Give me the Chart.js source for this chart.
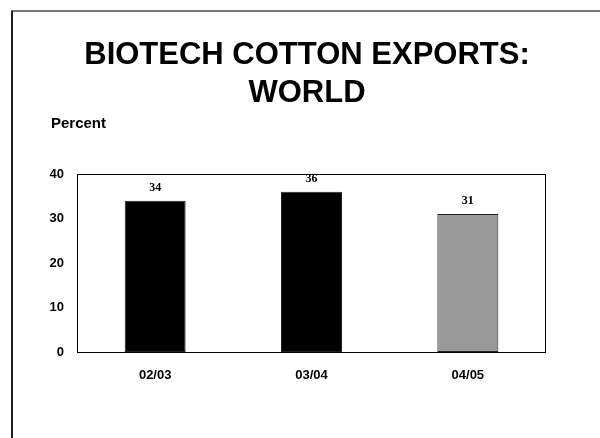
<!DOCTYPE html>
<html>
<head>
<meta charset="utf-8">
<script src="https://cdn.jsdelivr.net/npm/chart.js@4/dist/chart.umd.min.js"></script>
<style>
  html, body { margin: 0; padding: 0; background: #fff; }
  #wrap { position: relative; width: 600px; height: 438px; }
</style>
</head>
<body>
<div id="wrap"><canvas id="cotton-chart" width="600" height="438"></canvas></div>
<script>
const titleLines = ['BIOTECH COTTON EXPORTS:', 'WORLD'];
const unitLabel = 'Percent';
const seasons = ['02/03', '03/04', '04/05'];
const exportShare = [34, 36, 31];
const barColors = ['#000000', '#000000', '#999999'];
const yTicks = [0, 10, 20, 30, 40];

const sansFont = '"Liberation Sans", Arial, sans-serif';
const serifFont = '"Liberation Serif", "Times New Roman", serif';

// frame, title, unit label, plot box and value labels
const decorPlugin = {
  id: 'decor',
  beforeDraw(chart) {
    const { ctx } = chart;
    ctx.save();
    ctx.fillStyle = '#fff';
    ctx.fillRect(0, 0, chart.width, chart.height);
    ctx.lineWidth = 2;
    ctx.strokeStyle = '#777';
    ctx.beginPath();
    ctx.moveTo(11, 11);
    ctx.lineTo(chart.width, 11);
    ctx.stroke();
    ctx.strokeStyle = '#222';
    ctx.beginPath();
    ctx.moveTo(12, chart.height);
    ctx.lineTo(12, 11);
    ctx.stroke();

    ctx.fillStyle = '#000';
    ctx.textAlign = 'center';
    ctx.textBaseline = 'alphabetic';
    ctx.font = `bold 31px ${sansFont}`;
    ctx.fillText(titleLines[0], 307, 64);
    ctx.fillText(titleLines[1], 307, 102);

    ctx.textAlign = 'left';
    ctx.font = `bold 15px ${sansFont}`;
    ctx.fillText(unitLabel, 51, 128);
    ctx.restore();
  },
  afterDatasetsDraw(chart) {
    const { ctx, chartArea } = chart;
    ctx.save();
    ctx.strokeStyle = '#000';
    ctx.lineWidth = 1;
    ctx.strokeRect(chartArea.left + 0.5, chartArea.top + 0.5, chartArea.width - 1, chartArea.height);

    ctx.fillStyle = '#000';
    ctx.textAlign = 'center';
    ctx.textBaseline = 'middle';
    ctx.font = `bold 12px ${serifFont}`;
    const meta = chart.getDatasetMeta(0);
    meta.data.forEach((bar, i) => {
      ctx.fillText(String(exportShare[i]), bar.x, bar.y - 13);
    });
    ctx.restore();
  },
};

new Chart(document.getElementById('cotton-chart'), {
  type: 'bar',
  data: {
    labels: seasons,
    datasets: [
      {
        label: unitLabel,
        data: exportShare,
        backgroundColor: barColors,
        borderColor: '#222',
        borderWidth: 1,
        borderSkipped: false,
        barPercentage: 0.39,
        categoryPercentage: 1,
      },
    ],
  },
  options: {
    responsive: false,
    animation: false,
    layout: { padding: { left: 20, right: 54, top: 174, bottom: 46 } },
    plugins: {
      legend: { display: false },
      tooltip: { enabled: false },
    },
    scales: {
      x: {
        grid: { display: false, drawTicks: false },
        border: { display: false },
        afterFit: (scale) => { scale.height = 40; },
        ticks: {
          color: '#000',
          padding: 16,
          font: { family: sansFont, size: 13, weight: 'bold' },
        },
      },
      y: {
        min: yTicks[0],
        max: yTicks[yTicks.length - 1],
        grid: { display: false, drawTicks: false },
        border: { display: false },
        afterFit: (scale) => { scale.width = 57; },
        afterBuildTicks: (scale) => { scale.ticks = yTicks.map((value) => ({ value })); },
        ticks: {
          color: '#000',
          padding: 13,
          font: { family: sansFont, size: 13, weight: 'bold' },
        },
      },
    },
  },
  plugins: [decorPlugin],
});
</script>
</body>
</html>
